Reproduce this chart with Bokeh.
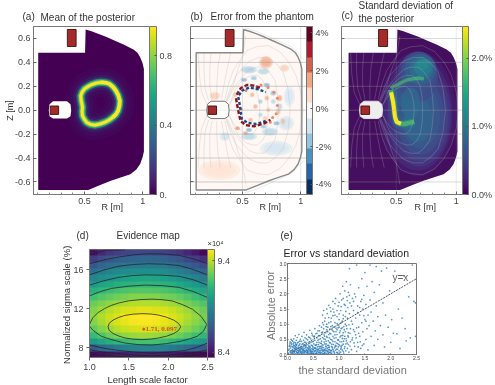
import numpy as np
from bokeh.plotting import figure
from bokeh.models import ColorBar, LinearColorMapper, FixedTicker, Range1d
from bokeh.core.properties import value
from bokeh.layouts import column, row
from bokeh.palettes import Viridis256, RdBu11
from bokeh.embed import file_html
from bokeh.resources import INLINE

# ---------- shared geometry (R, Z in metres)
vessel_r = [.103,.505,.51,.56,.617,.69,.756,.84,.92,.955,.978,.998,1.01,1.01,.998,.978,.945,.894,.81,.727,.63,.533,.103]
vessel_z = [.48,.48,.675,.66,.64,.612,.583,.547,.508,.48,.443,.395,.345,-.345,-.395,-.45,-.495,-.535,-.562,-.59,-.628,-.667,-.667]
hole_r = [.23,.35,.38,.386,.38,.35,.23,.2,.194,.2]
hole_z = [.075,.075,.05,0,-.05,-.07,-.07,-.05,0,.05]
coil1_r = [.206,.278,.278,.206]
coil1_z = [.035,.035,-.035,-.035]
coil2_r = [.353,.428,.428,.353]
coil2_z = [.675,.675,.533,.533]

# ---------- panel (a): bright ring of the mean
ring_r = [.48,.5,.53,.561,.6,.644,.68,.714,.745,.769,.79,.803,.8,.789,.77,.742,.71,.672,.63,.589,.55,.519,.498,.483,.48,.483,.478,.472,.468]
ring_z = [.152,.178,.198,.214,.227,.233,.23,.22,.195,.164,.125,.08,.04,-.004,-.035,-.06,-.083,-.102,-.116,-.124,-.118,-.102,-.075,-.046,-.01,.024,.052,.08,.12]
ring_thick_r = [.644,.68,.714,.745,.769,.79,.803,.8,.789,.77,.742]
ring_thick_z = [.233,.23,.22,.195,.164,.125,.08,.04,-.004,-.035,-.06]
ticks_a = [0, .4, .8]

# ---------- flux surfaces, upper half (mirrored below)
flux = [
 ([.195,.15,.13,.12],[.05,.15,.3,.48]),
 ([.21,.18,.17,.17],[.08,.18,.33,.48]),
 ([.24,.22,.22,.23],[.09,.2,.35,.48]),
 ([.28,.28,.29,.31],[.09,.2,.36,.48]),
 ([.32,.34,.37,.40],[.09,.2,.35,.48]),
 ([.36,.42,.46,.50,.53],[.07,.2,.34,.44,.62]),
 ([.38,.42,.46,.5,.54,.58,.61,.63,.645,.65],[.03,.1,.15,.18,.195,.2,.175,.13,.07,0]),
 ([.39,.44,.48,.53,.58,.63,.67,.7,.715,.72],[.05,.17,.23,.27,.29,.29,.255,.2,.11,0]),
 ([.37,.41,.46,.51,.56,.62,.68,.73,.78,.8,.81],[.07,.16,.23,.29,.34,.36,.36,.32,.25,.13,0]),
 ([.36,.4,.44,.5,.56,.64,.72,.79,.85,.89,.91],[.08,.19,.28,.35,.41,.44,.44,.39,.32,.18,0]),
 ([.35,.38,.42,.48,.54,.62,.72,.82,.9,.96,1.0,1.02],[.09,.22,.33,.42,.5,.53,.54,.49,.4,.29,.15,0]),
 ([.52,.62,.76,.92,1.03],[.69,.66,.6,.53,.42]),
]

# ---------- panel (b): error blobs  R, Z, width, height, colour
blob_r = [.3,.79,.556,.68,.556,.736,.903,.875,.264,.861,.703,
          .584,.709,.612,.723,.57,.695,.626,.654,.765,.654,
          .821,.807,.849,.458,.528,.514,.598,.709,.765,.821,.793,.681,.556,.44,.35]
blob_z = [-.5,-.318,.338,.324,-.22,-.179,.115,-.109,.12,.352,.40,
          .129,.101,.031,.003,-.081,-.067,.184,.073,.073,-.039,
          .101,-.011,-.095,-.151,-.193,.254,.268,.212,.143,.031,-.109,-.137,-.165,.13,-.22]
blob_w = [.26,.2,.1,.075,.1,.1,.07,.1,.07,.06,.085,
          .03,.03,.03,.03,.03,.03,.03,.03,.03,.03,
          .032,.032,.032,.032,.032,.04,.04,.04,.04,.032,.04,.04,.04,.032,.065]
blob_h = [.12,.09,.045,.04,.045,.05,.12,.09,.05,.045,.075,
          .03,.03,.03,.03,.03,.03,.03,.03,.03,.03,
          .04,.04,.04,.025,.025,.025,.025,.025,.032,.04,.025,.025,.025,.032,.055]
blob_c = ["#fde0d0","#cfe3f0","#a8cfe4","#b4d6e8","#b4d6e8","#b4d6e8","#d5e7f2","#cfe3f0","#f9cdb5","#f9cdb5","#f4a582",
          "#f6b08f","#f6b08f","#f6b08f","#f8c8ae","#f6b08f","#f8c8ae","#a8cfe4","#a8cfe4","#b4d6e8","#b4d6e8",
          "#f5aa85","#f7c0a5","#f6b08f","#ef8f6e","#f3a283","#7db8d8","#92c5de","#7db8d8","#92c5de","#b4d6e8","#7db8d8","#92c5de","#7db8d8","#f8c8ae","#cfe3f0"]
strip_red = [([.45,.486,.542,.598,.65],[.13,.184,.212,.205,.19]),
             ([.445,.456,.47,.484,.53,.6,.69,.74],[.10,.04,-.03,-.09,-.125,-.135,-.11,-.08])]
strip_blue = [([.47,.50,.56,.64,.7],[.125,.165,.19,.175,.15]),
              ([.465,.478,.487,.495,.54,.62,.7],[.11,.04,-.02,-.07,-.105,-.115,-.09])]
orange_r = [.66,.72,.77,.80,.80,.79,.76,.74,.53,.49]
orange_z = [.21,.19,.15,.10,.04,-.03,-.06,-.1,.165,.01]
ticks_b = [-4,-2,0,2,4]

# ---------- panel (c): glow areas of the std-dev (R, Z, width, height, colour)
glow_r = [.68,.68,.69,.70,.70,.70,.68,.62,.68,.69,.70,.71,.72,.72,.62]
glow_z = [-.03,-.03,-.04,-.05,-.05,-.05,-.08,.13,.28,.32,.34,.35,.36,.38,.06]
glow_w = [.64,.58,.53,.47,.40,.33,.24,.28,.34,.30,.26,.20,.15,.10,.16]
glow_h = [1.04,.95,.86,.76,.65,.54,.38,.26,.42,.34,.26,.20,.15,.09,.26]
glow_c = ["#462070","#472d7b","#443a83","#404688","#3b528b","#365c8d","#31688e","#34608d","#3f4a89","#3b528b","#33628d","#2c728e","#26828e","#21908c","#2f6c8e"]
ridge_top_r = [.46,.475,.508,.55,.592,.64,.689,.73]
ridge_top_z = [.18,.197,.212,.235,.254,.262,.268,.262]
ridge_r = [.453,.465,.48,.486,.5,.53,.564,.61,.65]
ridge_z = [.17,.115,.059,-.025,-.095,-.113,-.115,-.105,-.095]
ridge_core_r = [.458,.473,.484,.49,.505,.54]
ridge_core_z = [.15,.07,-.01,-.06,-.1,-.113]
ticks_c = [0,1,2]

# ---------- panel (d): evidence map, values x 1e4 (rows bottom to top)
d_rows = [
 [8.38,8.40,8.42,8.44,8.45,8.46,8.46,8.46,8.45,8.44,8.43,8.41,8.39,8.38,8.36],
 [8.68,8.74,8.78,8.82,8.85,8.87,8.88,8.88,8.87,8.85,8.82,8.79,8.75,8.71,8.68],
 [8.98,9.04,9.08,9.12,9.15,9.17,9.18,9.18,9.17,9.15,9.12,9.08,9.04,9.00,8.96],
 [9.14,9.20,9.25,9.29,9.32,9.34,9.35,9.35,9.34,9.32,9.29,9.25,9.21,9.16,9.12],
 [9.24,9.30,9.35,9.39,9.42,9.44,9.45,9.45,9.44,9.42,9.39,9.35,9.31,9.26,9.21],
 [9.30,9.36,9.41,9.45,9.48,9.50,9.51,9.51,9.50,9.48,9.45,9.41,9.36,9.31,9.26],
 [9.32,9.38,9.43,9.46,9.49,9.51,9.52,9.52,9.51,9.49,9.46,9.42,9.38,9.33,9.28],
 [9.30,9.35,9.39,9.42,9.45,9.46,9.47,9.47,9.46,9.45,9.42,9.39,9.35,9.30,9.25],
 [9.25,9.29,9.32,9.35,9.37,9.39,9.39,9.39,9.39,9.37,9.35,9.32,9.28,9.24,9.20],
 [9.17,9.21,9.24,9.26,9.28,9.30,9.30,9.30,9.30,9.28,9.26,9.24,9.20,9.16,9.12],
 [9.08,9.12,9.15,9.17,9.19,9.20,9.21,9.21,9.20,9.19,9.17,9.14,9.11,9.07,9.03],
 [8.98,9.03,9.06,9.08,9.10,9.11,9.12,9.12,9.11,9.10,9.08,9.05,9.01,8.97,8.93],
 [8.88,8.93,8.96,8.99,9.01,9.02,9.03,9.03,9.02,9.01,8.98,8.95,8.91,8.87,8.83],
 [8.78,8.83,8.87,8.89,8.91,8.92,8.93,8.93,8.92,8.91,8.88,8.85,8.81,8.77,8.73],
 [8.67,8.73,8.77,8.79,8.81,8.82,8.83,8.83,8.82,8.81,8.78,8.75,8.71,8.67,8.62],
 [8.55,8.62,8.66,8.69,8.71,8.72,8.73,8.73,8.72,8.71,8.68,8.65,8.60,8.56,8.51],
 [8.40,8.47,8.53,8.56,8.58,8.60,8.60,8.60,8.59,8.58,8.55,8.52,8.47,8.42,8.37],
]
contours = [
 ([1.236,1.25,1.30,1.37,1.45,1.55,1.665,1.78,1.88,1.98,2.07,2.13,2.16,2.13,2.07,1.98,1.88,1.78,1.665,1.55,1.45,1.37,1.30,1.25,1.236],
  [10.14,10.5,10.83,11.1,11.31,11.43,11.48,11.45,11.34,11.12,10.83,10.5,10.14,9.75,9.45,9.18,9.0,8.88,8.83,8.88,9.0,9.2,9.45,9.78,10.14]),
 ([1.0,1.04,1.107,1.19,1.28,1.38,1.494,1.64,1.794,1.92,2.05,2.18,2.31,2.42,2.49,2.45,2.37,2.27,2.16,1.98,1.794,1.62,1.45,1.3,1.15,1.05,1.0],
  [10.38,11.05,11.59,12.0,12.34,12.6,12.79,12.92,12.97,12.92,12.79,12.42,11.93,11.2,10.38,9.7,9.17,8.9,8.66,8.42,8.28,8.32,8.48,8.78,9.17,9.75,10.2]),
 ([1.0,1.14,1.28,1.5,1.71,1.93,2.14,2.32,2.5],[13.31,13.75,14.07,14.3,14.41,14.35,14.17,13.75,13.14]),
 ([1.0,1.18,1.37,1.54,1.71,1.92,2.14,2.32,2.5],[14.41,14.85,15.2,15.38,15.45,15.42,15.31,14.95,14.41]),
 ([1.0,1.18,1.37,1.56,1.75,1.95,2.14,2.32,2.5],[15.45,15.95,16.34,16.52,16.59,16.55,16.41,16.0,15.45]),
 ([1.0,1.18,1.37,1.56,1.75,1.95,2.14,2.32,2.5],[16.59,16.98,17.28,17.5,17.62,17.58,17.45,17.1,16.59]),
 ([1.0,1.2,1.45],[17.5,17.97,18.0]),
 ([1.0,1.18,1.37,1.58,1.79,2.0,2.22,2.37,2.5],[8.28,7.95,7.72,7.55,7.45,7.55,7.72,8.05,8.48]),
 ([1.0,1.18,1.37,1.58,1.79,2.0,2.22,2.37,2.5],[7.79,7.55,7.38,7.25,7.17,7.25,7.38,7.55,7.79]),
 ([1.0,1.18,1.37,1.58,1.79,2.0,2.2,2.37,2.5],[7.45,7.25,7.1,7.05,7.03,7.05,7.1,7.22,7.4]),
]

# ---------- panel (e): absolute error vs std deviation (std, err)
e_pts = [
(.02,.05),(.03,.18),(.04,.31),(.05,.09),(.05,.42),(.06,.22),(.07,.02),(.07,.5),(.08,.13),(.08,.33),(.09,.07),(.09,.26),(.1,.17),(.1,.44),(.11,.03),(.11,.36),(.12,.1),(.12,.52),(.13,.21),(.13,.29),
(.14,.05),(.14,.15),(.15,.39),(.15,.62),(.16,.02),(.16,.25),(.17,.11),(.17,.47),(.18,.07),(.18,.33),(.19,.19),(.19,.56),(.2,.03),(.2,.14),(.21,.28),(.21,.41),(.22,.09),(.22,.66),(.23,.22),(.23,.02),
(.24,.35),(.24,.12),(.25,.5),(.25,.06),(.26,.18),(.26,.27),(.27,.43),(.27,.03),(.28,.1),(.28,.6),(.29,.24),(.29,.15),(.3,.36),(.3,.04),(.31,.08),(.31,.47),(.32,.2),(.32,.73),(.33,.13),(.33,.3),
(.34,.02),(.34,.55),(.35,.1),(.35,.4),(.36,.25),(.36,.17),(.37,.06),(.37,.65),(.38,.33),(.38,.13),(.39,.48),(.39,.03),(.4,.21),(.4,.09),(.41,.29),(.41,.58),(.42,.15),(.42,.02),(.43,.38),(.43,.8),
(.44,.07),(.44,.24),(.45,.52),(.45,.12),(.46,.31),(.46,.04),(.47,.19),(.47,.7),(.48,.42),(.48,.1),(.49,.27),(.49,.02),(.5,.6),(.5,.16),(.5,.05),(.51,.35),(.52,.22),(.52,.09),(.53,.47),(.53,.85),
(.54,.13),(.54,.03),(.55,.3),(.55,.68),(.56,.18),(.56,.07),(.57,.4),(.57,.55),(.58,.11),(.58,.25),(.59,.02),(.59,.78),(.6,.33),(.6,.15),(.61,.5),(.61,.06),(.62,.21),(.62,.95),(.63,.09),(.63,.62),
(.64,.37),(.64,.03),(.65,.27),(.65,.14),(.66,.72),(.66,.44),(.67,.18),(.67,.05),(.68,.56),(.68,1.05),(.69,.31),(.69,.1),(.7,.85),(.7,.23),(.7,.02),(.71,.41),(.71,.65),(.72,.16),(.72,.07),(.73,.5),
(.73,1.2),(.74,.28),(.74,.12),(.75,.92),(.75,.35),(.76,.04),(.76,.6),(.77,.2),(.77,1.35),(.78,.75),(.78,.09),(.79,.45),(.79,.15),(.8,1.05),(.8,.3),(.8,.02),(.81,.55),(.81,.24),(.82,.84),(.82,.07),
(.83,1.55),(.83,.38),(.84,.13),(.84,.68),(.85,1.2),(.85,.27),(.86,.05),(.86,.48),(.87,.95),(.87,.18),(.88,.6),(.88,1.75),(.89,.33),(.89,.1),(.9,1.4),(.9,.75),(.91,.22),(.91,.03),(.92,1.05),(.92,.42),
(.93,.14),(.93,1.85),(.94,.55),(.94,.87),(.95,.28),(.95,.07),(.96,1.25),(.96,.66),(.97,.36),(.97,.18),(.98,1.6),(.98,.02),(.99,.97),(.99,.48),(1.0,.12),(1.0,1.15),(1.01,.72),(1.01,.3),(1.02,2.0),(1.02,.58),
(1.03,.08),(1.03,1.45),(1.04,.85),(1.04,.22),(1.05,1.8),(1.05,.42),(1.06,1.1),(1.06,.15),(1.07,.63),(1.07,2.25),(1.08,1.3),(1.08,.34),(1.09,.05),(1.09,.92),(1.1,1.65),(1.1,.52),(1.11,2.1),(1.11,.26),(1.12,1.0),(1.12,.75),
(1.13,1.42),(1.13,.12),(1.14,2.4),(1.14,.45),(1.15,.85),(1.15,1.9),(1.16,.2),(1.16,1.2),(1.17,.62),(1.17,1.55),(1.18,2.05),(1.18,.33),(1.19,.98),(1.19,.08),(1.2,2.83),(1.2,1.35),(1.21,.7),(1.21,1.7),(1.22,.42),(1.22,2.3),
(1.24,1.1),(1.24,.16),(1.26,1.85),(1.26,.55),(1.28,.82),(1.28,1.45),(1.3,.27),(1.3,2.0),(1.32,1.2),(1.32,.65),(1.34,2.95),(1.34,.1),(1.36,1.6),(1.36,.4),(1.38,.9),(1.38,2.2),(1.4,.6),(1.4,1.3),(1.42,1.75),(1.42,.2),
(1.44,1.05),(1.44,2.5),(1.46,.75),(1.46,1.5),(1.48,.35),(1.48,1.95),(1.5,2.7),(1.5,1.15),(1.52,.5),(1.52,1.65),(1.54,.85),(1.54,2.25),(1.56,1.3),(1.56,.15),(1.58,.95),(1.6,1.8),(1.6,2.95),(1.62,.6),(1.62,1.4),(1.64,2.4),
(1.66,1.1),(1.68,.3),(1.68,2.05),(1.7,.78),(1.72,1.6),(1.72,2.9),(1.75,.5),(1.75,1.25),(1.78,2.3),(1.8,.95),(1.82,2.75),(1.85,.65),(1.85,1.7),(1.88,.25),(1.9,1.3),(1.92,2.85),(1.95,.9),(1.98,2.1),(2.0,.4),(2.02,1.15),
(2.05,.7),(2.08,2.75),(2.12,.68),(2.15,1.5),(2.18,.2),(2.22,1.2),(2.25,2.6),(2.28,.85),(2.3,.45),(2.35,1.9),(2.38,.55),(2.42,2.95),(2.45,1.75),(2.48,.6),(2.48,1.7),
(.06,.12),(.09,.03),(.11,.24),(.13,.08),(.15,.2),(.17,.3),(.19,.06),(.21,.12),(.23,.16),(.25,.09),(.27,.2),(.29,.05),(.31,.15),(.33,.06),(.35,.22),(.37,.14),(.39,.1),(.41,.05),(.43,.2),(.45,.02),
(.47,.1),(.49,.17),(.51,.03),(.53,.2),(.55,.12),(.57,.05),(.59,.18),(.61,.27),(.63,.04),(.65,.2),(.67,.32),(.69,.03),(.71,.13),(.73,.05),(.75,.25),(.77,.1),(.79,.02),(.81,.17),(.83,.07),(.85,.12),
(.034,.27),(.072,.38),(.096,.14),(.118,.31),(.142,.11),(.158,.34),(.183,.23),(.207,.07),(.226,.31),(.247,.15),(.268,.08),(.293,.19),(.316,.27),(.334,.1),(.357,.31),(.381,.07),(.402,.16),(.423,.26),(.447,.16),(.472,.06),
(.494,.22),(.516,.12),(.537,.31),(.558,.02),(.583,.16),(.604,.08),(.626,.14),(.648,.07),(.672,.24),(.693,.16),(.717,.03),(.734,.19),(.756,.14),(.778,.3),(.797,.08),(.823,.14),(.846,.02),(.867,.24),(.884,.16),(.906,.08),
(.928,.3),(.947,.18),(.968,.06),(.986,.25),(1.007,.05),(1.033,.18),(1.058,.3),(1.08,.1),(1.104,.2),(1.13,.35),(.43,.56),(.48,.64),(.52,.58),(.57,.7),(.6,.62),(.64,.52),(.68,.74),(.72,.6),(.76,.82),(.8,.66),
(.84,.92),(.88,.78),(.92,.65),(.96,.82),(1.0,.9),(1.04,.62),(1.08,.72),(.72,1.1),(.76,1.0),(.8,1.22),(.84,1.08),(.88,1.28),(.92,1.3),(.96,1.02),(1.0,1.34),(1.04,1.05),(1.08,1.18),(1.12,1.25),(.68,1.3),(.7,1.45),
(.023,.14),(.047,.37),(.063,.28),(.085,.47),(.105,.09),(.127,.4),(.149,.27),(.167,.17),(.192,.38),(.213,.2),(.238,.44),(.256,.23),(.283,.34),(.305,.12),(.327,.41),(.348,.29),(.366,.52),(.391,.22),(.413,.36),(.436,.11),
(.456,.41),(.478,.29),(.501,.43),(.523,.61),(.544,.21),(.566,.33),(.589,.47),(.611,.4),(.634,.26),(.656,.37),(.678,.12),(.702,.52),(.725,.35),(.747,.44),(.769,.56),(.792,.23),(.813,.4),(.836,.5),(.859,.34),(.881,.43),
(.903,.54),(.925,.26),(.949,.38),(.972,.48),(.994,.33),(1.016,.42),(1.038,.27),(1.062,.53),(1.086,.44),(1.11,.6),(1.135,.52),(1.158,.38),(1.18,.58),(1.21,.28),(1.25,.48),(1.29,.38),(1.33,.55),(1.37,.25),(1.41,.42),(1.45,.3),
(.62,.78),(.66,.9),(.7,.98),(.74,.72),(.78,.9),(.82,.7),(.86,.82),(.9,.9),(.94,.75),(.98,.88),(1.02,.78),(1.06,.88),(1.1,.82),(1.14,.95),(1.18,.72),(1.22,.85),(1.26,1.0),(1.3,.75),(1.34,.88),(1.38,.7),
(.76,1.5),(.8,1.62),(.84,1.42),(.88,1.5),(.92,1.68),(.96,1.45),(1.0,1.72),(1.04,1.58),(1.08,1.85),(1.12,1.62),(1.16,1.78),(1.2,1.95),(1.24,1.6),(1.28,1.75),(1.32,1.9),(1.36,1.38),(1.4,1.55),(1.44,1.82),(1.48,1.28),(1.52,1.1),
]
e_std = [p[0] for p in e_pts]
e_err = [p[1] for p in e_pts]
line_x = [0, 2.5]
line_y = [0, 2.5]

TXT = "#333333"
FONT = "Liberation Sans"

# overlay texts: page pixel x, y, text, size, colour, angle, align, font, style
captions = [
 (22,16,"(a)",10,TXT,0,"left",FONT,"normal"),
 (40,17,"Mean of the posterior",10,TXT,0,"left",FONT,"normal"),
 (101,206,"R [m]",9,TXT,0,"left",FONT,"normal"),
 (9,110,"Z [m]",9,TXT,1.5708,"center",FONT,"normal"),
 (190,16,"(b)",10,TXT,0,"left",FONT,"normal"),
 (210,16,"Error from the phantom",10,TXT,0,"left",FONT,"normal"),
 (259,206,"R [m]",9,TXT,0,"left",FONT,"normal"),
 (341,15,"(c)",10,TXT,0,"left",FONT,"normal"),
 (358,5,"Standard deviation of",10,TXT,0,"left",FONT,"normal"),
 (358,18,"the posterior",10,TXT,0,"left",FONT,"normal"),
 (414,206,"R [m]",9,TXT,0,"left",FONT,"normal"),
 (76,235,"(d)",10,TXT,0,"left",FONT,"normal"),
 (116,235,"Evidence map",10,TXT,0,"left",FONT,"normal"),
 (207,243,"\u00d710\u2074",7.5,TXT,0,"left",FONT,"normal"),
 (107,379,"Length scale factor",9.5,TXT,0,"left",FONT,"normal"),
 (66,303,"Normalized  sigma scale (%)",9.5,TXT,1.5708,"center",FONT,"normal"),
 (145,328,"1.71, 0.097",7,"#e8451e",0,"left","Liberation Serif","bold"),
 (280,235,"(e)",10,"#222222",0,"left",FONT,"normal"),
 (283,252,"Error vs standard deviation",10.5,"#222222",0,"left",FONT,"normal"),
 (392,277,"y=x",10,"#666666",0,"left",FONT,"normal"),
 (298,369,"the standard deviation",11,"#777777",0,"left",FONT,"normal"),
 (270,305,"Absolute error",11,"#777777",1.5708,"center",FONT,"normal"),
]

SOFT = {"filter": "blur(0.45px)"}

def panel(W, H, l, r, t, b, xr, yr):
    p = figure(width=W, height=H, x_range=Range1d(*xr), y_range=Range1d(*yr),
               toolbar_location=None, output_backend="svg", styles=SOFT,
               min_border_left=l, min_border_right=r, min_border_top=t, min_border_bottom=b)
    p.grid.visible = False
    p.outline_line_color = "#777777"
    p.outline_line_width = 1
    p.background_fill_color = "white"
    for ax in (p.xaxis[0], p.yaxis[0]):
        ax.axis_line_color = "#777777"
        ax.major_tick_in = 3
        ax.major_tick_out = 0
        ax.minor_tick_in = 2
        ax.minor_tick_out = 0
        ax.major_tick_line_color = "#666666"
        ax.minor_tick_line_color = "#888888"
        ax.major_label_text_font = FONT
        ax.major_label_text_font_size = "9px"
        ax.major_label_text_color = "#444444"
        ax.major_label_standoff = 3
    return p

def bar(p, palette, low, high, ticks, labels, width=7, margin=4):
    m = LinearColorMapper(palette=palette, low=low, high=high)
    cb = ColorBar(color_mapper=m, ticker=FixedTicker(ticks=ticks),
                  major_label_overrides=labels, width=width, padding=0, margin=margin,
                  major_label_text_font=FONT, major_label_text_font_size="9px",
                  major_label_text_color="#444444", label_standoff=3,
                  major_tick_line_color="#555555", major_tick_in=2, minor_tick_line_color=None,
                  bar_line_color="#777777")
    p.add_layout(cb, "right")

def hidey(p):
    p.yaxis.major_label_overrides = {v: "" for v in Z_TICKS.ticks}

def flux_lines(p, color, alpha, width=.7):
    xs, ys = [], []
    for r, z in flux:
        xs += [r, r]
        ys += [z, [-v for v in z]]
    p.multi_line(xs, ys, line_color=color, line_alpha=alpha, line_width=width)

def guide_lines(p, xr, color, alpha):
    p.multi_line([list(xr)]*7, [[v,v] for v in Z_TICKS.ticks], line_color=color, line_alpha=alpha, line_width=.8)
    p.multi_line([[.5,.5],[1.0,1.0]], [[-.705,.70],[-.705,.70]], line_color=color, line_alpha=alpha*.6, line_width=.7)

def coils(p):
    p.patch(coil1_r, coil1_z, fill_color="#a52a2a", line_color="#4a1a1a", line_width=1)
    p.patch(coil2_r, coil2_z, fill_color="#a52a2a", line_color="#4a1a1a", line_width=1)

RZ_TICKS = FixedTicker(ticks=[.5, 1.0], minor_ticks=[.1,.2,.3,.4,.6,.7,.8,.9])
Z_TICKS = FixedTicker(ticks=[-.6,-.4,-.2,0,.2,.4,.6])

# ---- (a)
pa = panel(175, 220, 33, 22, 26, 26, (.0625, 1.058), (-.705, .70))
pa.xaxis.ticker = RZ_TICKS
pa.yaxis.ticker = Z_TICKS
pa.yaxis.major_label_overrides = {-.6:"-0.6",-.4:"-0.4",-.2:"-0.2",0:"0.0",.2:"0.2",.4:"0.4",.6:"0.6"}
pa.patch(vessel_r, vessel_z, fill_color="#440154", line_color=None)
for w, a, c in [(30,.06,"#3b528b"),(22,.09,"#3b528b"),(15,.14,"#31688e"),(10,.35,"#26828e"),(7,.8,"#2ab07f"),(4.5,1,"#7ad151"),(2.8,1,"#fde725")]:
    pa.patch(ring_r, ring_z, fill_color=None, line_color=c, line_alpha=a, line_width=w, line_join="round")
pa.line(ring_thick_r, ring_thick_z, line_color="#fde725", line_width=3.5, line_join="round")
pa.patch(hole_r, hole_z, fill_color="white", line_color=None)
coils(pa)
bar(pa, Viridis256, 0, .968, ticks_a, {0:"0.",.4:"0.4",.8:"0.8"})

# ---- (b)
pb = panel(159, 220, 15, 25, 26, 26, (.0545, 1.05), (-.705, .70))
pb.xaxis.ticker = RZ_TICKS
pb.yaxis.ticker = Z_TICKS
hidey(pb)
pb.patch(vessel_r, vessel_z, fill_color="#fef7f3", line_color=None)
for s in (1.4, 1.1, .8):
    pb.ellipse(blob_r, blob_z, width=[w*s for w in blob_w], height=[h*s for h in blob_h],
               fill_color=blob_c, fill_alpha=.4, line_color=None)
pb.scatter(orange_r, orange_z, size=3, fill_color="#e98a6a", line_color=None)
pb.multi_line([s[0] for s in strip_blue], [s[1] for s in strip_blue], line_color="#144b8a", line_width=2.4, line_dash="3 2")
pb.multi_line([s[0] for s in strip_red], [s[1] for s in strip_red], line_color="#8f0f1f", line_width=2.4, line_dash="4 2")
guide_lines(pb, (.0545, 1.05), "#888888", .5)
flux_lines(pb, "#aaaaaa", .35)
pb.patch(vessel_r, vessel_z, fill_color=None, line_color="#8a8a8a", line_width=1.4)
pb.patch(hole_r, hole_z, fill_color="white", fill_alpha=.7, line_color="#777777", line_width=1)
coils(pb)
bar(pb, RdBu11, -4.53, 4.33, ticks_b, {-4:"-4%",-2:"-2%",0:"0%",2:"2%",4:"4%"}, width=6, margin=3)

# ---- (c)
pc = panel(161, 220, 7, 33, 26, 26, (.044, 1.052), (-.705, .70))
pc.xaxis.ticker = RZ_TICKS
pc.yaxis.ticker = Z_TICKS
hidey(pc)
pc.patch(vessel_r, vessel_z, fill_color="#440f5e", line_color=None)
pc.ellipse(glow_r, glow_z, width=glow_w, height=glow_h, fill_color=glow_c, fill_alpha=.7, line_color=None)
for w, a, c in [(12,.18,"#26828e"),(7,.35,"#22a884"),(4.5,.6,"#5ec962")]:
    pc.line(ridge_top_r, ridge_top_z, line_color=c, line_alpha=a*.8, line_width=w*.7, line_join="round")
    pc.line(ridge_r, ridge_z, line_color=c, line_alpha=a, line_width=w, line_join="round")
pc.line(ridge_core_r, ridge_core_z, line_color="#fde725", line_width=4, line_join="round")
guide_lines(pc, (.044, 1.052), "#999999", .45)
flux_lines(pc, "#cfcfcf", .32)
pc.patch(hole_r, hole_z, fill_color="#eeeeee", line_color="#dddddd", line_width=1)
coils(pc)
bar(pc, Viridis256, 0, 2.47, ticks_c, {0:"0.0%",1:"1.0%",2:"2.0%"}, width=6, margin=3)

# ---- (d)
pd = panel(262, 157, 89, 55, 29, 20, (1.0, 2.5), (7.0, 18.05))
pd.xaxis.ticker = FixedTicker(ticks=[1,1.5,2,2.5])
pd.xaxis.major_label_overrides = {1:"1.0",1.5:"1.5",2:"2.0",2.5:"2.5"}
pd.yaxis.ticker = FixedTicker(ticks=[8,12,16])
pd_map = LinearColorMapper(palette=Viridis256, low=8.345, high=9.52)
pd.image(image=[np.array(d_rows)], x=1.0, y=7.0, dw=1.5, dh=11.05, color_mapper=pd_map)
cx = [c[0] for c in contours]
cy = [c[1] for c in contours]
pd.multi_line(cx, cy, line_color="#222222", line_width=.9, line_alpha=.85)
pd.scatter([1.69], [9.9], size=2, color="#e8451e")
bar(pd, Viridis256, 8.345, 9.52, [8.4, 9.4], {8.4:"8.4",9.4:"9.4"}, width=7, margin=3)
for ax in (pd.xaxis[0], pd.yaxis[0]):
    ax.major_tick_in = 0
    ax.major_tick_out = 3
    ax.minor_tick_in = 0
    ax.minor_tick_out = 0

# ---- (e)
pe = panel(233, 157, 25, 79, 43, 23, (0, 2.5), (0, 3))
pe.xaxis.ticker = FixedTicker(ticks=[0,.5,1,1.5,2,2.5])
pe.yaxis.ticker = FixedTicker(ticks=[0,.5,1,1.5,2,2.5,3])
lbls = {0:"0.0",.5:"0.5",1:"1.0",1.5:"1.5",2:"2.0",2.5:"2.5",3:"3.0"}
pe.xaxis.major_label_overrides = lbls
pe.yaxis.major_label_overrides = lbls
for ax in (pe.xaxis[0], pe.yaxis[0]):
    ax.major_label_text_font_size = "5px"
    ax.major_tick_in = 1
    ax.minor_tick_in = 0
    ax.major_label_standoff = 1
pe.scatter(e_std, e_err, size=1.7, fill_color="#1f74b8", fill_alpha=.75, line_color=None)
pe.line(line_x, line_y, line_color="#555555", line_width=1, line_dash="2 1")

# ---- page-wide transparent text layer, in page pixels
ov = figure(width=495, height=385, x_range=Range1d(0, 495), y_range=Range1d(385, 0),
            toolbar_location=None, output_backend="svg", x_axis_location=None, y_axis_location=None,
            min_border=0, background_fill_color=None, border_fill_color=None, outline_line_color=None,
            margin=(-377, 0, 0, 0), styles=SOFT)
ov.grid.visible = False
for x, y, s, size, col, ang, al, fnt, sty in captions:
    ov.text([x], [y], text=[s], text_font=value(fnt), text_font_size=f"{size}px", text_color=col,
            angle=ang, text_align=al, text_baseline="middle", text_font_style=sty)

main = column(row(pa, pb, pc, spacing=0), row(column(pd), column(pe), spacing=0), spacing=0)
root = column(main, ov, spacing=0, margin=(0, 0, 0, 0))
open("out.html", "w").write(file_html(root, INLINE))
